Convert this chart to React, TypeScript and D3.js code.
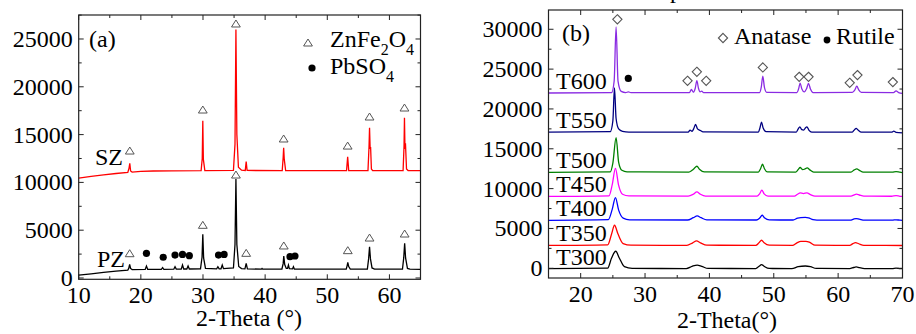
import React, { useEffect, useRef } from "react";
import * as d3 from "d3";

type Pt = [number, number];

// ---- panel (a) ----
const SZ: Pt[] = [
  [10, 10450], [12, 10620], [14, 10790], [16, 10930], [17.9, 11050], [18.1, 11500], [18.22, 12000], [18.35, 11200],
  [18.6, 11080], [20, 11150], [22, 11190], [25, 11210], [29.7, 11230], [29.88, 12500], [29.97, 16450], [30.06, 12400],
  [30.3, 11240], [34.9, 11260], [35.15, 14000], [35.3, 26000], [35.45, 15000], [35.7, 11600], [36.2, 11280],
  [36.8, 11250], [36.95, 12170], [37.1, 11250], [42.75, 11230], [42.9, 12600], [42.98, 13630], [43.08, 12400],
  [43.3, 11240], [53.1, 11230], [53.28, 12690], [53.45, 11240], [56.55, 11240], [56.72, 13800], [56.8, 15720],
  [56.9, 13500], [56.97, 13700], [57.1, 11400], [57.3, 11240], [62.2, 11240], [62.35, 13800], [62.42, 16770],
  [62.5, 13500], [62.58, 14100], [62.75, 11400], [63, 11240], [65, 11230],
];

const PZ: Pt[] = [
  [10, 310], [12, 440], [14, 580], [16, 710], [17.9, 830], [18.05, 1000], [18.2, 1430], [18.35, 1000], [18.6, 880],
  [20.7, 900], [20.9, 1250], [21.1, 910], [23.3, 910], [23.5, 1080], [23.7, 910], [25.3, 920], [25.5, 1180],
  [25.7, 930], [26.5, 930], [26.7, 1360], [26.9, 940], [27.4, 940], [27.6, 1250], [27.8, 940], [29.6, 960],
  [29.85, 2200], [29.97, 4570], [30.1, 2100], [30.4, 1000], [32.2, 950], [32.4, 1180], [32.6, 960], [32.9, 960],
  [33.1, 1360], [33.3, 980], [34.9, 1050], [35.15, 3500], [35.3, 10350], [35.45, 3500], [35.75, 1200], [36.2, 980],
  [36.75, 960], [36.95, 1540], [37.15, 960], [39.4, 920], [39.5, 1000], [39.6, 920], [42.7, 940], [42.9, 1500],
  [43.0, 2300], [43.15, 1400], [43.4, 1000], [43.6, 1000], [43.75, 1360], [43.9, 980], [44.4, 950], [44.55, 1180],
  [44.7, 930], [53.05, 920], [53.2, 1300], [53.3, 1640], [53.45, 1200], [53.7, 930], [56.45, 940], [56.65, 2000],
  [56.8, 3270], [56.95, 2000], [57.2, 1050], [57.6, 930], [62.1, 930], [62.3, 2100], [62.45, 3630], [62.6, 2100],
  [62.9, 1000], [63.3, 920], [65, 910],
];

const ZNFE_SZ: Pt[] = [[18.22, 13280], [29.97, 17570], [35.3, 26570], [42.98, 14540], [53.28, 13800], [56.8, 16840], [62.42, 17780]];
const ZNFE_PZ: Pt[] = [[18.2, 2540], [29.97, 5510], [35.3, 10770], [36.95, 2580], [43.0, 3350], [53.3, 2860], [56.8, 4180], [62.45, 4600]];
const PBSO4_PZ: Pt[] = [[20.9, 2580], [23.6, 2170], [25.5, 2400], [26.7, 2470], [27.8, 2330], [32.5, 2400], [33.4, 2470], [44.0, 2230], [44.8, 2300]];

// ---- panel (b) ----
const T600: Pt[] = [
  [15, 22000], [24.8, 22050], [25.2, 23500], [25.5, 30300], [25.8, 23500], [26.3, 22200], [27.0, 22050], [27.4, 22150],
  [27.8, 22050], [36.9, 22050], [37.2, 22460], [37.5, 22100], [37.8, 22600], [38.05, 23550], [38.3, 22600],
  [38.55, 22150], [38.8, 22240], [39.1, 22050], [47.8, 22050], [48.05, 22700], [48.3, 24120], [48.55, 22700],
  [48.9, 22080], [53.6, 22050], [53.85, 22500], [54.1, 23250], [54.35, 22550], [54.75, 22150], [55.1, 22550],
  [55.4, 23200], [55.7, 22500], [56.1, 22050], [62.2, 22080], [62.6, 22400], [62.9, 22860], [63.2, 22400],
  [63.6, 22080], [68.6, 22050], [69.0, 22270], [69.4, 22050], [70, 21950],
];
const T550: Pt[] = [
  [15, 17100], [24.6, 17150], [25.0, 18500], [25.25, 22650], [25.5, 18800], [25.9, 17500], [26.5, 17200], [27.5, 17100],
  [36.7, 17100], [37.0, 17340], [37.3, 17200], [37.55, 17500], [37.85, 18050], [38.15, 17500], [38.6, 17300],
  [39.0, 17120], [47.6, 17100], [47.85, 17600], [48.1, 18340], [48.35, 17600], [48.8, 17150], [53.5, 17100],
  [53.8, 17500], [54.05, 17750], [54.35, 17400], [54.65, 17350], [54.9, 17600], [55.15, 17750], [55.45, 17350],
  [55.9, 17100], [62.2, 17100], [62.55, 17400], [62.8, 17550], [63.1, 17350], [63.6, 17100], [68.3, 17080],
  [68.65, 17210], [69.0, 17070], [70, 17000],
];
const T500: Pt[] = [
  [15, 12050], [24.6, 12100], [25.0, 13200], [25.5, 16400], [25.9, 13300], [26.4, 12300], [27.2, 12100], [36.8, 12080],
  [37.3, 12300], [37.6, 12500], [38.05, 12810], [38.5, 12400], [39.2, 12100], [47.6, 12080], [47.95, 12500],
  [48.25, 13070], [48.55, 12500], [49.0, 12100], [53.4, 12080], [53.8, 12400], [54.1, 12650], [54.5, 12380],
  [54.8, 12450], [55.2, 12600], [55.6, 12350], [56.2, 12080], [62.0, 12080], [62.5, 12350], [62.9, 12470],
  [63.3, 12300], [63.9, 12080], [68.4, 12070], [69.0, 12140], [69.6, 12060], [70, 12020],
];
const T450: Pt[] = [
  [15, 9020], [24.4, 9100], [24.9, 10500], [25.4, 12550], [25.9, 10400], [26.5, 9300], [27.5, 9080], [36.7, 9060],
  [37.5, 9300], [38.05, 9590], [38.6, 9300], [39.4, 9070], [47.4, 9060], [47.8, 9350], [48.15, 9800], [48.5, 9350],
  [49.1, 9070], [53.2, 9060], [53.7, 9300], [54.1, 9460], [54.6, 9380], [55.15, 9460], [55.7, 9250], [56.4, 9060],
  [62.0, 9060], [62.5, 9220], [62.85, 9300], [63.3, 9200], [64.0, 9060], [68.3, 9040], [69.0, 9120], [69.6, 9040],
  [70, 9020],
];
const T400: Pt[] = [
  [15, 6020], [24.3, 6100], [24.9, 7400], [25.4, 8880], [25.9, 7300], [26.6, 6300], [27.6, 6080], [36.6, 6060],
  [37.5, 6350], [38.1, 6570], [38.7, 6350], [39.6, 6080], [47.3, 6060], [47.8, 6300], [48.2, 6660], [48.6, 6300],
  [49.3, 6070], [53.0, 6060], [53.7, 6300], [54.2, 6370], [54.9, 6380], [55.4, 6330], [56.1, 6100], [56.7, 6050],
  [61.9, 6050], [62.4, 6180], [62.8, 6240], [63.3, 6160], [64.1, 6050], [68.4, 6040], [69.0, 6090], [69.6, 6040],
  [70, 6020],
];
const T350: Pt[] = [
  [15, 2870], [24.2, 2950], [24.8, 4300], [25.25, 5400], [25.8, 4300], [26.6, 3100], [27.8, 2900], [36.5, 2880],
  [37.4, 3200], [38.0, 3430], [38.6, 3200], [39.6, 2900], [47.2, 2880], [47.7, 3200], [48.1, 3520], [48.5, 3200],
  [49.3, 2900], [52.9, 2880], [53.6, 3200], [54.2, 3390], [55.0, 3390], [55.6, 3250], [56.4, 2900], [61.8, 2880],
  [62.3, 3100], [62.7, 3230], [63.2, 3080], [64.0, 2880], [70, 2860],
];
const T300: Pt[] = [
  [15, -40], [24.2, 30], [24.8, 1300], [25.45, 2140], [26.0, 1300], [26.8, 200], [28.0, -20], [36.4, -30], [37.3, 250],
  [38.1, 410], [38.8, 250], [39.8, -20], [47.2, -30], [47.7, 250], [48.1, 460], [48.5, 250], [49.3, -20], [52.8, -30],
  [53.8, 200], [54.9, 290], [55.7, 200], [56.6, -20], [61.8, -30], [62.4, 100], [62.8, 170], [63.3, 80], [64.1, -30],
  [68.4, -40], [69.0, 20], [69.6, -40], [70, -50],
];

const ANATASE: Pt[] = [[25.7, 31250], [36.6, 23530], [38.05, 24660], [39.5, 23530], [48.3, 25210], [53.95, 24030], [55.4, 24030], [61.8, 23280], [63.0, 24250], [68.5, 23370]];
const RUTILE: Pt[] = [[27.4, 23830]];

const SAMPLE_NAMES = ["T600", "T550", "T500", "T450", "T400", "T350", "T300"];
const SAMPLE_DATA = [T600, T550, T500, T450, T400, T350, T300];
const SAMPLE_COLORS = ["#8a2be2", "#000080", "#008000", "#ff00ff", "#0000ff", "#ff0000", "#000000"];

const FONT = "'Liberation Serif', 'Times New Roman', serif";
const TRI = "M0,-4 L4.4,3 L-4.4,3 Z";
const DIA = "M0,-4.6 L4.6,0 L0,4.6 L-4.6,0 Z";

type G = d3.Selection<SVGGElement, unknown, null, undefined>;

function drawFrame(
  g: G,
  x: d3.ScaleLinear<number, number>,
  y: d3.ScaleLinear<number, number>,
  xMajor: number[],
  xMinor: number[],
  yMajor: number[],
  yMinor: number[]
) {
  const [x0, x1] = x.range();
  const [y0, y1] = y.range(); // y0 bottom, y1 top
  const tick = (v: number, len: number) => {
    g.append("line").attr("x1", x(v)).attr("x2", x(v)).attr("y1", y0).attr("y2", y0 - len).attr("stroke", "#222");
    g.append("line").attr("x1", x(v)).attr("x2", x(v)).attr("y1", y1).attr("y2", y1 + len).attr("stroke", "#222");
  };
  const ytick = (v: number, len: number) => {
    g.append("line").attr("y1", y(v)).attr("y2", y(v)).attr("x1", x0).attr("x2", x0 + len).attr("stroke", "#222");
    g.append("line").attr("y1", y(v)).attr("y2", y(v)).attr("x1", x1).attr("x2", x1 - len).attr("stroke", "#222");
  };
  xMajor.forEach((v) => tick(v, 5));
  xMinor.forEach((v) => tick(v, 3));
  yMajor.forEach((v) => ytick(v, 5));
  yMinor.forEach((v) => ytick(v, 3));

  g.append("rect")
    .attr("x", x0)
    .attr("y", y1)
    .attr("width", x1 - x0)
    .attr("height", y0 - y1)
    .attr("fill", "none")
    .attr("stroke", "#222")
    .attr("stroke-width", 1.2);

  g.selectAll(null)
    .data(xMajor)
    .enter()
    .append("text")
    .attr("x", (d) => x(d))
    .attr("y", y0 + 24)
    .attr("text-anchor", "middle")
    .attr("font-size", 24)
    .text((d) => d);

  g.selectAll(null)
    .data(yMajor)
    .enter()
    .append("text")
    .attr("x", x0 - 6)
    .attr("y", (d) => y(d) + 8)
    .attr("text-anchor", "end")
    .attr("font-size", 24)
    .text((d) => d);
}

const App: React.FC = () => {
  const svgRef = useRef<SVGSVGElement | null>(null);

  useEffect(() => {
    const svgElement = svgRef.current;
    if (!svgElement) return;
    const svg = d3.select(svgElement);
    svg.selectAll("*").remove();

    const root = svg.append("g").attr("font-family", FONT).attr("fill", "#000");

    // ---------- panel (a) ----------
    const xa = d3.scaleLinear().domain([10, 65]).range([78.7, 420.5]);
    const ya = d3.scaleLinear().domain([-136, 27510]).range([279.3, 15]);
    const ga = root.append("g");
    const lineA = d3.line<Pt>().x((d) => xa(d[0])).y((d) => ya(d[1]));

    ga.append("path").attr("d", lineA(SZ)).attr("fill", "none").attr("stroke", "#ff0000").attr("stroke-width", 1.3);
    ga.append("path").attr("d", lineA(PZ)).attr("fill", "none").attr("stroke", "#000").attr("stroke-width", 1.3);

    [...ZNFE_SZ, ...ZNFE_PZ].forEach((d) => {
      ga.append("path")
        .attr("d", TRI)
        .attr("transform", `translate(${xa(d[0])},${ya(d[1])})`)
        .attr("fill", "none")
        .attr("stroke", "#555")
        .attr("stroke-width", 1);
    });
    PBSO4_PZ.forEach((d) => {
      ga.append("circle").attr("cx", xa(d[0])).attr("cy", ya(d[1])).attr("r", 3.6).attr("fill", "#000");
    });

    drawFrame(ga, xa, ya, d3.range(10, 61, 10), d3.range(15, 66, 10), d3.range(0, 25001, 5000), d3.range(2500, 27501, 5000));

    ga.append("text").attr("x", 89).attr("y", 47).attr("font-size", 24).text("(a)");
    ga.append("text").attr("x", 95).attr("y", 165).attr("font-size", 24).text("SZ");
    ga.append("text").attr("x", 97).attr("y", 267).attr("font-size", 24).text("PZ");

    // legend (a)
    ga.append("path").attr("d", TRI).attr("transform", "translate(308,43)").attr("fill", "none").attr("stroke", "#555");
    const l1 = ga.append("text").attr("x", 330).attr("y", 47).attr("font-size", 24);
    l1.append("tspan").text("ZnFe");
    l1.append("tspan").attr("dy", 8).attr("font-size", 16).text("2");
    l1.append("tspan").attr("dy", -8).text("O");
    l1.append("tspan").attr("dy", 8).attr("font-size", 16).text("4");
    ga.append("circle").attr("cx", 312).attr("cy", 68).attr("r", 3.6).attr("fill", "#000");
    const l2 = ga.append("text").attr("x", 330).attr("y", 74).attr("font-size", 24);
    l2.append("tspan").text("PbSO");
    l2.append("tspan").attr("dy", 8).attr("font-size", 16).text("4");

    ga.append("text").attr("x", 249).attr("y", 326).attr("text-anchor", "middle").attr("font-size", 24).text("2-Theta (°)");

    // ---------- panel (b) ----------
    const xb = d3.scaleLinear().domain([15, 70]).range([548.5, 902.5]);
    const yb = d3.scaleLinear().domain([-1218, 32420]).range([278, 10]);
    const gb = root.append("g");
    const lineB = d3.line<Pt>().x((d) => xb(d[0])).y((d) => yb(d[1])).curve(d3.curveMonotoneX);

    SAMPLE_DATA.forEach((data, i) => {
      gb.append("path")
        .attr("d", lineB(data))
        .attr("fill", "none")
        .attr("stroke", SAMPLE_COLORS[i])
        .attr("stroke-width", 1.3);
      gb.append("text")
        .attr("x", 556)
        .attr("y", yb(data[0][1]) - 4)
        .attr("font-size", 24)
        .text(SAMPLE_NAMES[i]);
    });

    ANATASE.forEach((d) => {
      gb.append("path")
        .attr("d", DIA)
        .attr("transform", `translate(${xb(d[0])},${yb(d[1])})`)
        .attr("fill", "none")
        .attr("stroke", "#555")
        .attr("stroke-width", 1.1);
    });
    RUTILE.forEach((d) => {
      gb.append("circle").attr("cx", xb(d[0])).attr("cy", yb(d[1])).attr("r", 3.6).attr("fill", "#000");
    });

    drawFrame(gb, xb, yb, d3.range(20, 71, 10), d3.range(25, 66, 10), d3.range(0, 30001, 5000), d3.range(2500, 32500, 5000));

    gb.append("text").attr("x", 562).attr("y", 41).attr("font-size", 24).text("(b)");
    gb.append("path").attr("d", DIA).attr("transform", "translate(723,38)").attr("fill", "none").attr("stroke", "#555").attr("stroke-width", 1.1);
    gb.append("text").attr("x", 734).attr("y", 44).attr("font-size", 24).text("Anatase");
    gb.append("circle").attr("cx", 827).attr("cy", 40).attr("r", 3.4).attr("fill", "#000");
    gb.append("text").attr("x", 836).attr("y", 44).attr("font-size", 24).text("Rutile");

    gb.append("text").attr("x", 727).attr("y", 328).attr("text-anchor", "middle").attr("font-size", 24).text("2-Theta(°)");
    // clipped caption glyph at the very top
    gb.append("text").attr("x", 670).attr("y", -2).attr("font-size", 24).text("p");
  }, []);

  return (
    <div>
      <svg
        ref={svgRef}
        width={916}
        height={334}
        style={{ position: "absolute", left: 0, top: 0, background: "white" }}
      ></svg>
    </div>
  );
};

export default App;
